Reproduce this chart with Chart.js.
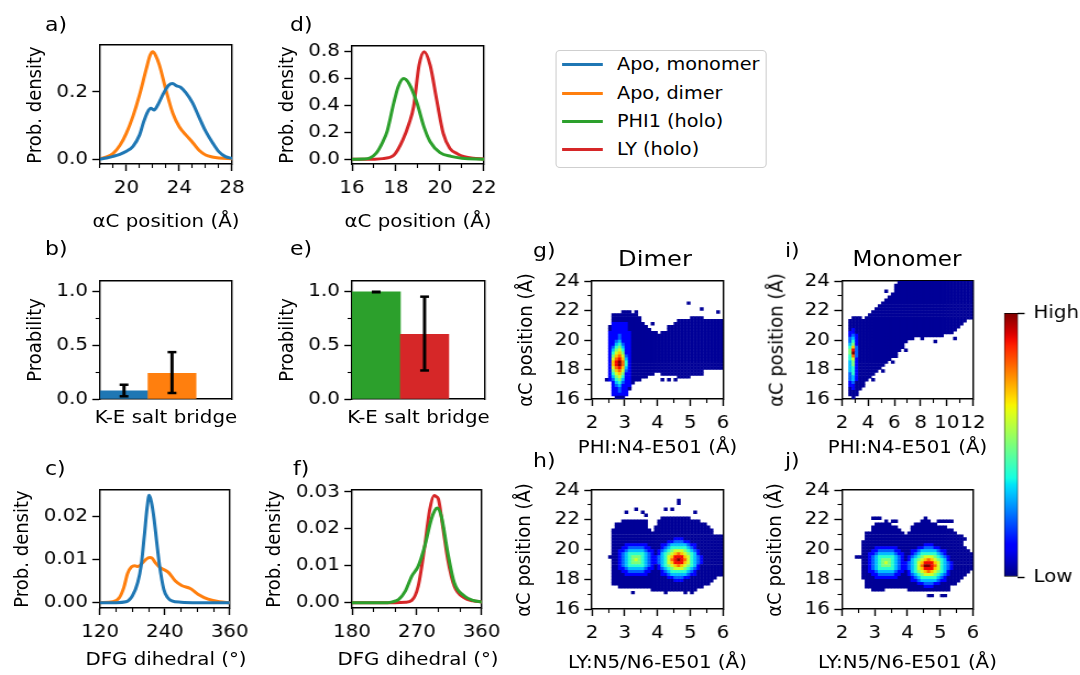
<!DOCTYPE html>
<html>
<head>
<meta charset="utf-8">
<script src="https://cdn.jsdelivr.net/npm/chart.js@4.4.1/dist/chart.umd.min.js"></script>
<style>
  html, body { margin:0; padding:0; background:#fff; }
  #root { position:relative; width:1080px; height:675px; overflow:hidden; background:#fff; }
  #stage { position:absolute; left:0; top:0; height:675px; transform-origin:0 0; font-family:"DejaVu Sans", sans-serif; color:#000; }
  #stage canvas { position:absolute; }
  .txt { position:absolute; white-space:nowrap; line-height:1; }
  .ctr { position:absolute; white-space:nowrap; line-height:1.2; }
  #legend { position:absolute; box-sizing:border-box; border:1px solid #cfcfcf; border-radius:4px; background:#fff; }
  .lg-line { position:absolute; height:3px; }
  .lg-text { position:absolute; line-height:1; white-space:nowrap; }
</style>
</head>
<body>
<div id="root"><div id="stage"><div id="legend"></div></div></div>
<script>
// ---------------- DATA ----------------
const seriesNames = ['Apo, monomer', 'Apo, dimer', 'PHI1 (holo)', 'LY (holo)'];
const seriesColors = ['#1f77b4', '#ff7f0e', '#2ca02c', '#d62728'];

// a) alphaC position, apo
const aMonoX = [18, 18.5, 19, 19.5, 20, 20.5, 21, 21.3, 21.6, 21.85, 22.1, 22.4, 22.8, 23.2, 23.5, 23.8, 24.1, 24.5, 25, 25.5, 26, 26.5, 27, 27.5, 28];
const aMonoY = [0.000, 0.003, 0.008, 0.014, 0.023, 0.038, 0.072, 0.110, 0.140, 0.151, 0.146, 0.163, 0.195, 0.220, 0.225, 0.218, 0.214, 0.198, 0.168, 0.125, 0.083, 0.050, 0.022, 0.007, 0.002];
const aDimerX = [18, 18.5, 19, 19.5, 20, 20.5, 21, 21.5, 21.8, 22, 22.2, 22.5, 23, 23.5, 24, 24.5, 25, 25.5, 26, 26.5, 27, 28];
const aDimerY = [0.001, 0.006, 0.017, 0.040, 0.077, 0.128, 0.192, 0.268, 0.310, 0.320, 0.310, 0.280, 0.205, 0.138, 0.096, 0.072, 0.050, 0.026, 0.012, 0.006, 0.003, 0.001];

// d) alphaC position, holo
const dPhiX = [16, 16.5, 16.8, 17.1, 17.4, 17.6, 17.9, 18.1, 18.35, 18.6, 18.95, 19.25, 19.55, 20, 20.5, 21, 22];
const dPhiY = [0.0, 0.002, 0.008, 0.045, 0.13, 0.21, 0.42, 0.54, 0.60, 0.56, 0.42, 0.25, 0.13, 0.05, 0.022, 0.008, 0.001];
const dLyX = [16, 17, 17.4, 17.9, 18.3, 18.6, 18.8, 19.05, 19.28, 19.55, 19.85, 20.15, 20.45, 20.8, 21.1, 21.5, 22];
const dLyY = [0.0, 0.001, 0.005, 0.03, 0.14, 0.27, 0.39, 0.70, 0.80, 0.70, 0.44, 0.19, 0.08, 0.04, 0.02, 0.008, 0.002];

// b) / e) K-E salt bridge probability
const bValues = [0.077, 0.24];
const bErrLow = [0.025, 0.056];
const bErrHigh = [0.133, 0.437];
const eValues = [1.0, 0.604];
const eErrLow = [0.995, 0.266];
const eErrHigh = [1.0, 0.954];

// c) DFG dihedral, apo
const cMonoX = [120, 150, 168, 180, 190, 196, 202, 207, 211, 215, 220, 225, 230, 238, 245, 253, 270, 300, 360];
const cMonoY = [0, 0.0000, 0.0002, 0.0016, 0.0048, 0.0085, 0.0156, 0.0220, 0.0250, 0.0235, 0.0195, 0.0140, 0.0088, 0.0031, 0.0012, 0.0004, 0.0001, 0, 0];
const cDimerX = [120, 144, 156, 164, 171, 178, 184, 190, 198, 205, 212, 216, 223, 230, 235, 247, 259, 271, 287, 302, 320, 341, 360];
const cDimerY = [0, 0.0002, 0.0012, 0.0035, 0.0068, 0.0083, 0.0086, 0.0084, 0.0092, 0.0101, 0.0105, 0.0104, 0.0092, 0.0083, 0.0079, 0.0070, 0.0051, 0.0040, 0.0033, 0.0019, 0.0008, 0.0002, 0.0000];

// f) DFG dihedral, holo
const fPhiX = [180, 230, 236, 245, 254, 263, 272, 281, 290, 295, 298, 304, 313, 322, 336, 348, 360];
const fPhiY = [0, 0, 0.0002, 0.0009, 0.0031, 0.0072, 0.0099, 0.0153, 0.0225, 0.0250, 0.0256, 0.0234, 0.0135, 0.0054, 0.0018, 0.0006, 0.0002];
const fLyX = [180, 240, 254, 263, 272, 281, 288, 294, 297, 300, 306, 313, 322, 336, 348, 360];
const fLyY = [0, 0, 0.0001, 0.0006, 0.0045, 0.0153, 0.0252, 0.0290, 0.0287, 0.0280, 0.0207, 0.0117, 0.0045, 0.0013, 0.0005, 0.0002];

// tick values
const aXMajor = [20, 24, 28], aXMinor = [18, 19, 21, 22, 23, 25, 26, 27], aYMajor = [0, 0.2];
const dXMajor = [16, 18, 20, 22], dXMinor = [17, 19, 21], dYMajor = [0, 0.2, 0.4, 0.6, 0.8];
const cXMajor = [120, 240, 360], cXMinor = [150, 180, 210, 270, 300, 330], cYMajor = [0, 0.01, 0.02];
const fXMajor = [180, 270, 360], fXMinor = [210, 240, 300, 330], fYMajor = [0, 0.01, 0.02, 0.03];
const barYMajor = [0, 0.5, 1.0], barYMinor = [0.25, 0.75];
const heatXMajor = [2, 3, 4, 5, 6], heatXMinor = [2.5, 3.5, 4.5, 5.5];
const iXMajor = [2, 4, 6, 8, 10, 12], iXMinor = [3, 5, 7, 9, 11];
const heatYMajor = [16, 18, 20, 22, 24], heatYMinor = [17, 19, 21, 23];
const colorbarTickLabels = ['Low', 'High'];

// 2D histograms: density level per bin (0 = empty, 1..9, A, B = low..high)
// rows from top (y=24) to bottom (y=16), bin height 0.2 A; columns bin width 0.1 A (g,h,j) / 0.25 A (i)
const HEAT_LEVELS = '0123456789AB';
const gRows = [
"0000000000 0000000000 0000000000 0000000000",
"0000000000 0000000000 0000000000 0000000000",
"0000000000 0000000000 0000000000 0000000000",
"0000000000 0000000000 0000000000 0000000000",
"0000000000 0000000000 0000000000 0000000000",
"0000000000 0000000000 0000000000 0000000000",
"0000000000 0000000000 0000000000 0000000000",
"0000000000 0000000000 0000000001 0000000000",
"0000000000 0000000000 0000000000 0000000000",
"0000000000 0000000000 0000000000 0001000000",
"0000000001 1101000000 0000000000 0000000010",
"0000001111 1111000000 0000000000 0000000000",
"0000001111 1111100000 0000000000 1111000000",
"0000001111 1111100000 0000001111 1111111111",
"0000002222 2111110010 0000011111 1111111111",
"0000012222 2111111000 0001111111 1111111111",
"0000012222 2111111100 0001111111 1111111111",
"0000022222 2211111111 0111111111 1111111111",
"0000022232 2211111111 1111111111 1111111111",
"0000022232 2211111111 1111111111 1111111111",
"0000022342 2211111111 1111111111 1111111111",
"0000022453 2211111111 1111111111 1111111111",
"0000023564 2211111111 1111111111 1111111111",
"0000024675 2211111111 1111111111 1111111111",
"0000025786 2211111111 1111111111 1111111111",
"0000026897 3211111111 1111111111 1111111111",
"00000279A8 4211111111 1111111111 1111111111",
"0000028AB9 5211111111 1111111111 1111111111",
"0000028AB9 5211111111 1111111111 1111111111",
"00000279A8 4211111111 1111111111 1111111111",
"0000026897 3211111111 1111111111 1111000000",
"0000025786 2211111110 0111111111 1111000000",
"0000024675 2211111000 0000001111 0000000000",
"0000123564 2211100000 0101010000 0000000000",
"0000002453 2210000000 0000000000 0000000000",
"0000002342 2200000000 0000000000 0000000000",
"0000002232 2100000000 0000000000 0000000000",
"0000002232 2000000000 0000000000 0000000000",
"0000002222 2000000000 0000000000 0000000000",
"0000000111 0000000000 0000000000 0000000000"
];
const hRows = [
"0000000000 0000000000 0000000000 0000000000",
"0000000000 0000000000 0000000000 0000000000",
"0000000000 0000000000 0000000000 0000000000",
"0000000000 0000000000 0000001000 0000000000",
"0000000000 0000000000 0000001000 0000000000",
"0000000000 0000000000 0000000000 0000000000",
"0000000000 0001000000 0010100000 0000000000",
"0000000000 1000010000 0000000000 0100000000",
"0000000000 0000001000 0000000000 0000000000",
"0000000000 0000000000 0111111111 0000000000",
"0000000001 1111111000 1111111111 1110000000",
"0000000111 1111111000 1111111111 1111100000",
"0000000111 1111111001 1111111111 1111110000",
"0000001111 1111111101 1111111111 1111111000",
"0000001111 1111111111 1111111111 1111111000",
"0000001111 1111111111 1111111111 1111111111",
"0000001111 1111111111 1111122211 1111111111",
"0000001111 1111111111 1112233322 1111111111",
"0000001111 2222222111 1223444443 2211111111",
"0000001112 2333332211 1234555554 3211111111",
"0000001122 3444443221 2345677765 4321111111",
"0000001123 4555554321 2456789876 5421111111",
"0000011123 4566654322 34578AAA87 5432111111",
"0000001123 4567654322 34579ABA97 5432111111",
"0000001123 4566654322 34578AAA87 5432111111",
"0000001123 4555554321 2456789876 5421111111",
"0000001122 3444443221 2345677765 4321111111",
"0000001112 2333332211 1234555554 3211111111",
"0000001111 2222222111 1223444443 2211111111",
"0000001111 1111111111 1112233322 1111111100",
"0000001111 1111111111 1111122211 1111111000",
"0000001111 1111111111 1111111111 1111110000",
"0000000011 1111111111 1111111111 1111000000",
"0000000000 0000000011 1111111111 1100000000",
"0000000000 0010000000 0010000010 1000000000",
"0000000000 0000000000 0000000000 0000000000",
"0000000000 0000000000 0000000000 0000000000",
"0000000000 0000000000 0000000000 0000000000",
"0000000000 0000000000 0000000000 0000000000",
"0000000000 0000000000 0000000000 0000000000"
];
const iRows = [
"0000000000 0000000111 1111111111 1111111111",
"0000000000 0000001111 1111111111 1111111111",
"0000000000 0000001111 1111111111 1111111111",
"0000000000 0001001111 1111111111 1111111111",
"0000000000 0000011111 1111111111 1111111111",
"0000000000 0000111111 1111111111 1111111111",
"0000000000 0001111111 1111111111 1111111111",
"0000000000 0011111111 1111111111 1111111111",
"0000000000 0111111111 1111111111 1111111111",
"0000000000 1111111111 1111111111 1111111111",
"0000000001 1111111111 1111111111 1111111111",
"0000000011 1111111111 1111111111 1111111111",
"0001110111 1111111111 1111111111 1111111111",
"0011111111 1111111111 1111111111 1111111100",
"0011111111 1111111111 1111111111 1111111000",
"0011111111 1111111111 1111111111 1111110000",
"0012111111 1111111111 1111111111 1111100000",
"0022111111 1111111111 1111111111 1111000000",
"0023211111 1111111111 1111111111 1000000000",
"0034211111 1111111111 1100100000 0000100000",
"0035211111 1111111111 0000000010 0000000000",
"0046211111 1111111110 0000000000 0000000000",
"0058311111 1111111110 0000000000 0000000000",
"006A311111 1111111101 0000000000 0000000000",
"006B311111 1111111000 0000000000 0000000000",
"0059311111 1111111000 0000000000 0000000000",
"0057211111 1111100000 0000000000 0000000000",
"0046211111 1111010000 0000000000 0000000000",
"0046211111 1110000000 0000000000 0000000000",
"0045211111 1100000000 0000000000 0000000000",
"0045211111 1010000000 0000000000 0000000000",
"0035211111 0000000000 0000000000 0000000000",
"0034211110 0000000000 0000000000 0000000000",
"0034211101 0000000000 0000000000 0000000000",
"0023111000 0000000000 0000000000 0000000000",
"0022111000 0000000000 0000000000 0000000000",
"0012110000 0000000000 0000000000 0000000000",
"0011100000 0000000000 0000000000 0000000000",
"0011100000 0000000000 0000000000 0000000000",
"0001000000 0000000000 0000000000 0000000000"
];
const jRows = [
"0000000000 0000000000 0000000000 0000000000",
"0000000000 0000000000 0000000000 0000000000",
"0000000000 0000000000 0000000000 0000000000",
"0000000000 0000000000 0000000000 0000000000",
"0000000000 0000000000 0000000000 0000000000",
"0000000000 0000000000 0000000000 0000000000",
"0000000000 0000000000 0000000000 0000000000",
"0000000000 0000000000 0000000000 0000000000",
"0000000000 0000000000 0000000000 0000000000",
"0000000001 1100000000 0000010000 0000000000",
"0000000000 0001011000 0000111001 1111000000",
"0000000000 1111100000 0011111110 0000000000",
"0000000001 1111111000 0111111111 1100000000",
"0000000001 1111111100 0111111111 1111000000",
"0000000111 1111111110 1111111111 1111100000",
"0000000111 1111111111 1111111111 1111111000",
"0000000111 1111111111 1111111111 1111111100",
"0000001111 1111111111 1111111111 1111111000",
"0000001111 1111111111 1111122211 1111111000",
"0000001111 2222222111 1112233322 1111111100",
"0000001112 2333332211 1223444443 2211111110",
"0000001122 3444443221 1234555554 3211111111",
"0000111123 4555554321 2345677765 4321111111",
"0000001123 4566654321 2456789876 5421111111",
"0000001123 4567654322 34578AAA87 5432111111",
"0000001123 4566654322 34579BBA97 5432111111",
"0000001123 4555554322 34578AAA87 5432111111",
"0000001122 3444443221 2456789876 5421111110",
"0000001112 2333332211 2345677765 4321111100",
"0000001111 2222222111 1234555554 3211111000",
"0000000111 1111111111 1223444443 2211110000",
"0000000111 1111111111 1112233322 1111100000",
"0000000111 1111111111 1111122211 1110000000",
"0000000001 1110000000 1111111111 1110000000",
"0000000000 0000000000 0000000000 0000000000",
"0000000000 0000000000 0000001100 1100000000",
"0000000000 0000000000 0000000000 0000000000",
"0000000000 0000000000 0000000000 0000000000",
"0000000000 0000000000 0000000000 0000000000",
"0000000000 0000000000 0000000000 0000000000"
];
const heatBins = { gStart: 2, gStep: 0.1, iStart: 2, iStep: 0.25, yTop: 24, yStep: 0.2 };

// ---------------- STYLE / HELPERS ----------------
const S = 1.1;                 // horizontal stretch of the whole figure
const X = v => v / S;          // final x -> stage x
const TICK_FS = 18, LAB_FS = 18;
Chart.defaults.font.family = '"DejaVu Sans", sans-serif';
Chart.defaults.color = '#000';
const stage = document.getElementById('stage');
stage.style.width = (1080 / S) + 'px';
stage.style.transform = 'scaleX(' + S + ')';

function jet(t) {
  const interp = (xs, ys) => {
    for (let i = 1; i < xs.length; i++) if (t <= xs[i]) { const f = (t - xs[i-1]) / (xs[i] - xs[i-1]); return ys[i-1] + f * (ys[i] - ys[i-1]); }
    return ys[ys.length - 1];
  };
  const r = interp([0, 0.35, 0.66, 0.89, 1], [0, 0, 1, 1, 0.5]);
  const g = interp([0, 0.125, 0.375, 0.64, 0.91, 1], [0, 0, 1, 1, 0, 0]);
  const b = interp([0, 0.11, 0.34, 0.65, 1], [0.5, 1, 1, 0, 0]);
  return 'rgb(' + Math.round(r * 255) + ',' + Math.round(g * 255) + ',' + Math.round(b * 255) + ')';
}
const LEVEL_T = [0, 0.02, 0.12, 0.22, 0.31, 0.40, 0.50, 0.60, 0.70, 0.80, 0.90, 1.0];
const HEAT_COLORS = LEVEL_T.map(jet);

const pts = (xs, ys) => xs.map((x, i) => ({ x, y: ys[i] }));
function lineDs(xs, ys, color) {
  return { type: 'line', data: pts(xs, ys), borderColor: color, borderWidth: 3, pointRadius: 0, fill: false,
           cubicInterpolationMode: 'monotone', borderCapStyle: 'round', borderJoinStyle: 'round' };
}
function heatDs(rows, xStart, xStep) {
  const data = [];
  rows.forEach((row, r) => {
    const s = row.replace(/\s/g, '');
    for (let c = 0; c < s.length; c++) {
      const lv = HEAT_LEVELS.indexOf(s[c]);
      if (lv > 0) data.push({ x: xStart + (c + 0.5) * xStep, y: heatBins.yTop - (r + 0.5) * heatBins.yStep, v: lv });
    }
  });
  return { type: 'scatter', data, pointStyle: 'rect', pointRadius: 2.45, borderWidth: 0,
           backgroundColor: ctx => HEAT_COLORS[ctx.raw ? ctx.raw.v : 1], clip: 0 };
}
function barSets(values, lo, hi, colors) {
  return [
    { type: 'scatter', data: [0, 1].flatMap(i => [{ x: i, y: lo[i] }, { x: i, y: hi[i] }]), pointStyle: 'line',
      pointRadius: 4, borderColor: '#000', borderWidth: 2.5, order: 0 },
    { type: 'bar', data: [0, 1].map(i => ({ x: i, y: [lo[i], hi[i]] })), backgroundColor: '#000', grouped: false,
      barPercentage: 1, categoryPercentage: 1, maxBarThickness: 2.3, order: 1 },
    { type: 'bar', data: values.map((v, i) => ({ x: i, y: v })), backgroundColor: colors, grouped: false,
      barPercentage: 1, categoryPercentage: 1, borderWidth: 0, order: 2 }
  ];
}

function addText(txt, x, baseline, size, align) {
  const d = document.createElement('div');
  d.className = 'txt';
  d.textContent = txt;
  d.style.fontSize = size + 'px';
  d.style.top = (baseline - 0.846 * size) + 'px';
  d.style.left = X(x) + 'px';
  if (align === 'center') d.style.transform = 'translateX(-50%)';
  stage.appendChild(d);
}
function addCentered(txt, cx, cy, size, rotate) {
  const d = document.createElement('div');
  d.className = 'ctr';
  d.textContent = txt;
  d.style.fontSize = size + 'px';
  d.style.left = X(cx) + 'px';
  d.style.top = cy + 'px';
  d.style.transform = 'translate(-50%, -50%)' + (rotate ? ' rotate(-90deg)' : '');
  stage.appendChild(d);
}

function panel(box, cfg) {
  const padT = 16;
  const l = X(box.l), r = X(box.r);
  const cl = Math.floor(l - 75);
  const W = l - cl;
  const H = 44;
  const ct = box.t - padT;
  const cw = Math.ceil(r - cl + 22);
  const padR = cw - (r - cl);
  const chh = box.b + H - ct;
  const cv = document.createElement('canvas');
  cv.width = cw; cv.height = chh;
  Object.assign(cv.style, { left: cl + 'px', top: ct + 'px', width: cw + 'px', height: chh + 'px' });
  stage.appendChild(cv);
  const setTicks = arr => s => { s.ticks = arr.map(v => ({ value: v })); };
  const tickFont = { size: TICK_FS };
  const scales = {
    x: {
      type: 'linear', position: 'bottom', min: cfg.xMin, max: cfg.xMax, weight: 0, offset: false,
      afterBuildTicks: setTicks(cfg.xMajor || [cfg.xMin]),
      afterFit: s => { s.height = H; },
      ticks: { display: !!cfg.xMajor, color: '#000', font: tickFont, padding: 7, maxRotation: 0, autoSkip: false, callback: cfg.xFmt || (v => v) },
      grid: { display: !!cfg.xMajor, offset: false, drawOnChartArea: false, tickLength: 7, tickWidth: 1.4, tickColor: '#000' },
      border: { display: true, color: '#000', width: 1.4 }
    },
    xTop: {
      type: 'linear', position: 'top', min: cfg.xMin, max: cfg.xMax, offset: false,
      afterBuildTicks: setTicks([cfg.xMin]), afterFit: s => { s.height = 0; },
      ticks: { display: false }, grid: { display: false }, border: { display: true, color: '#000', width: 1.4 }
    },
    y: {
      type: 'linear', position: 'left', min: cfg.yMin, max: cfg.yMax, weight: 0,
      afterBuildTicks: setTicks(cfg.yMajor),
      afterFit: s => { s.width = W; },
      ticks: { color: '#000', font: tickFont, padding: 4, autoSkip: false, callback: cfg.yFmt },
      grid: { drawOnChartArea: false, tickLength: 7, tickWidth: 1.4, tickColor: '#000' },
      border: { display: true, color: '#000', width: 1.4 }
    },
    yRight: {
      type: 'linear', position: 'right', min: cfg.yMin, max: cfg.yMax,
      afterBuildTicks: setTicks([cfg.yMin]), afterFit: s => { s.width = 0; },
      ticks: { display: false }, grid: { display: false }, border: { display: true, color: '#000', width: 1.4 }
    }
  };
  if (cfg.xMinor) scales.xMinor = {
    type: 'linear', position: 'bottom', min: cfg.xMin, max: cfg.xMax, weight: -10, offset: false,
    afterBuildTicks: setTicks(cfg.xMinor), afterFit: s => { s.height = 0; },
    ticks: { display: false }, grid: { display: true, drawOnChartArea: false, tickLength: 4, tickWidth: 1.1, tickColor: '#000' },
    border: { display: false }
  };
  if (cfg.yMinor) scales.yMinor = {
    type: 'linear', position: 'left', min: cfg.yMin, max: cfg.yMax, weight: -10,
    afterBuildTicks: setTicks(cfg.yMinor), afterFit: s => { s.width = 0; },
    ticks: { display: false }, grid: { display: true, drawOnChartArea: false, tickLength: 4, tickWidth: 1.1, tickColor: '#000' },
    border: { display: false }
  };
  new Chart(cv, {
    type: cfg.type,
    data: { datasets: cfg.datasets },
    options: {
      responsive: false, maintainAspectRatio: false, animation: false, events: [],
      layout: { padding: { top: padT, right: padR, left: 0, bottom: 0 } },
      plugins: { legend: { display: false }, tooltip: { enabled: false } },
      scales
    }
  });
  // axis titles
  addCentered(cfg.xTitle, (box.l + box.r) / 2, box.xTitleY, LAB_FS, false);
  addCentered(cfg.yTitle, box.yTitleX, (box.t + box.b) / 2, LAB_FS, true);
}

// ---------------- PANELS ----------------
const f1 = v => v.toFixed(1), f2 = v => v.toFixed(2), fi = v => String(v);
const AC = 'αC position (Å)';

panel({ l: 100, t: 45, r: 232, b: 164, yTitleX: 34, xTitleY: 221 }, {
  type: 'line', xMin: 18, xMax: 28, xMajor: aXMajor, xMinor: aXMinor, xFmt: fi, xTitle: AC,
  yMin: -0.0149, yMax: 0.340, yMajor: aYMajor, yFmt: f1, yTitle: 'Prob. density',
  datasets: [lineDs(aMonoX, aMonoY, seriesColors[0]), lineDs(aDimerX, aDimerY, seriesColors[1])]
});
panel({ l: 352, t: 46, r: 484, b: 164, yTitleX: 286, xTitleY: 221 }, {
  type: 'line', xMin: 16, xMax: 22, xMajor: dXMajor, xMinor: dXMinor, xFmt: fi, xTitle: AC,
  yMin: -0.035, yMax: 0.842, yMajor: dYMajor, yFmt: f1, yTitle: 'Prob. density',
  datasets: [lineDs(dPhiX, dPhiY, seriesColors[2]), lineDs(dLyX, dLyY, seriesColors[3])]
});
panel({ l: 100, t: 281, r: 232, b: 399, yTitleX: 34, xTitleY: 417 }, {
  type: 'bar', xMin: -0.5, xMax: 2.25, xTitle: 'K-E salt bridge',
  yMin: 0, yMax: 1.1, yMajor: barYMajor, yMinor: barYMinor, yFmt: f1, yTitle: 'Proability',
  datasets: barSets(bValues, bErrLow, bErrHigh, [seriesColors[0], seriesColors[1]])
});
panel({ l: 352, t: 281, r: 485, b: 399, yTitleX: 286, xTitleY: 417 }, {
  type: 'bar', xMin: -0.5, xMax: 2.25, xTitle: 'K-E salt bridge',
  yMin: 0, yMax: 1.1, yMajor: barYMajor, yMinor: barYMinor, yFmt: f1, yTitle: 'Proability',
  datasets: barSets(eValues, eErrLow, eErrHigh, [seriesColors[2], seriesColors[3]])
});
panel({ l: 100, t: 490, r: 232, b: 608, yTitleX: 21, xTitleY: 659 }, {
  type: 'line', xMin: 120, xMax: 360, xMajor: cXMajor, xMinor: cXMinor, xFmt: fi, xTitle: 'DFG dihedral (°)',
  yMin: -0.00125, yMax: 0.02625, yMajor: cYMajor, yFmt: f2, yTitle: 'Prob. density',
  datasets: [lineDs(cMonoX, cMonoY, seriesColors[0]), lineDs(cDimerX, cDimerY, seriesColors[1])]
});
panel({ l: 352, t: 490, r: 484, b: 608, yTitleX: 273, xTitleY: 659 }, {
  type: 'line', xMin: 180, xMax: 360, xMajor: fXMajor, xMinor: fXMinor, xFmt: fi, xTitle: 'DFG dihedral (°)',
  yMin: -0.00145, yMax: 0.0305, yMajor: fYMajor, yFmt: f2, yTitle: 'Prob. density',
  datasets: [lineDs(fPhiX, fPhiY, seriesColors[2]), lineDs(fLyX, fLyY, seriesColors[3])]
});
panel({ l: 592, t: 281, r: 723, b: 399, yTitleX: 525, xTitleY: 447 }, {
  type: 'scatter', xMin: 2, xMax: 6, xMajor: heatXMajor, xMinor: heatXMinor, xFmt: fi, xTitle: 'PHI:N4-E501 (Å)',
  yMin: 16, yMax: 24, yMajor: heatYMajor, yMinor: heatYMinor, yFmt: fi, yTitle: AC,
  datasets: [heatDs(gRows, heatBins.gStart, heatBins.gStep)]
});
panel({ l: 842, t: 281, r: 973, b: 399, yTitleX: 775, xTitleY: 447 }, {
  type: 'scatter', xMin: 2, xMax: 12, xMajor: iXMajor, xMinor: iXMinor, xFmt: fi, xTitle: 'PHI:N4-E501 (Å)',
  yMin: 16, yMax: 24, yMajor: heatYMajor, yMinor: heatYMinor, yFmt: fi, yTitle: AC,
  datasets: [heatDs(iRows, heatBins.iStart, heatBins.iStep)]
});
panel({ l: 592, t: 490, r: 723, b: 609, yTitleX: 524, xTitleY: 662 }, {
  type: 'scatter', xMin: 2, xMax: 6, xMajor: heatXMajor, xMinor: heatXMinor, xFmt: fi, xTitle: 'LY:N5/N6-E501 (Å)',
  yMin: 16, yMax: 24, yMajor: heatYMajor, yMinor: heatYMinor, yFmt: fi, yTitle: AC,
  datasets: [heatDs(hRows, heatBins.gStart, heatBins.gStep)]
});
panel({ l: 842, t: 490, r: 973, b: 609, yTitleX: 774, xTitleY: 662 }, {
  type: 'scatter', xMin: 2, xMax: 6, xMajor: heatXMajor, xMinor: heatXMinor, xFmt: fi, xTitle: 'LY:N5/N6-E501 (Å)',
  yMin: 16, yMax: 24, yMajor: heatYMajor, yMinor: heatYMinor, yFmt: fi, yTitle: AC,
  datasets: [heatDs(jRows, heatBins.gStart, heatBins.gStep)]
});

// ---------------- COLORBAR ----------------
(function () {
  const cv = document.createElement('canvas');
  const top = 293, left = Math.floor(X(1004)) - 4, w = Math.ceil(X(1080)) - left, h = 577 + 20 - 293;
  const barW = X(1018) - X(1004);
  cv.width = w; cv.height = h;
  Object.assign(cv.style, { left: left + 'px', top: top + 'px', width: w + 'px', height: h + 'px' });
  stage.appendChild(cv);
  const padL = X(1004) - left;
  new Chart(cv, {
    type: 'bar',
    data: { labels: [''], datasets: [{
      data: [1], borderColor: '#000', borderWidth: 1, borderSkipped: false, barPercentage: 1, categoryPercentage: 1,
      backgroundColor: ctx => {
        const a = ctx.chart.chartArea;
        if (!a) return '#00f';
        const g = ctx.chart.ctx.createLinearGradient(0, a.bottom, 0, a.top);
        for (let k = 0; k <= 40; k++) g.addColorStop(k / 40, jet(k / 40));
        return g;
      }
    }] },
    options: {
      responsive: false, maintainAspectRatio: false, animation: false, events: [],
      layout: { padding: { left: padL, top: 20, bottom: 20, right: 0 } },
      plugins: { legend: { display: false }, tooltip: { enabled: false } },
      scales: {
        x: { display: false },
        y: { position: 'right', min: 0, max: 1,
             afterBuildTicks: s => { s.ticks = [{ value: 0 }, { value: 1 }]; },
             afterFit: s => { s.width = w - padL - barW; },
             ticks: { color: '#000', font: { size: TICK_FS }, padding: 8, callback: v => colorbarTickLabels[v] },
             grid: { drawOnChartArea: false, tickLength: 6, tickWidth: 1.4, tickColor: '#000' },
             border: { display: false } }
      }
    }
  });
})();

// ---------------- LEGEND ----------------
(function () {
  const lg = document.getElementById('legend');
  Object.assign(lg.style, { left: X(555) + 'px', top: '50px', width: (X(767) - X(555)) + 'px', height: '118px' });
  const ys = [64, 93, 121, 149];
  const LFS = 17.5;
  seriesNames.forEach((name, i) => {
    const ln = document.createElement('div');
    ln.className = 'lg-line';
    ln.style.background = seriesColors[i];
    ln.style.left = (X(562) - X(555) - 1) + 'px';
    ln.style.width = (X(603) - X(562)) + 'px';
    ln.style.top = (ys[i] - 51 - 1.5) + 'px';
    lg.appendChild(ln);
    const t = document.createElement('div');
    t.className = 'lg-text';
    t.textContent = name;
    t.style.fontSize = LFS + 'px';
    t.style.left = (X(617) - X(555) - 1) + 'px';
    t.style.top = (ys[i] + 6.5 - 51 - 0.846 * LFS) + 'px';
    lg.appendChild(t);
  });
})();

// ---------------- PANEL LABELS / TITLES ----------------
addText('a)', 45, 31, 20);
addText('d)', 290, 31, 20);
addText('b)', 45, 255, 20);
addText('e)', 290, 255, 20);
addText('c)', 45, 475, 20);
addText('f)', 293, 475, 20);
addText('g)', 533, 257, 20);
addText('i)', 785, 257, 20);
addText('h)', 533, 467, 20);
addText('j)', 785, 467, 20);
addText('Dimer', 655, 267, 22, 'center');
addText('Monomer', 907, 267, 21, 'center');
</script>
</body>
</html>
